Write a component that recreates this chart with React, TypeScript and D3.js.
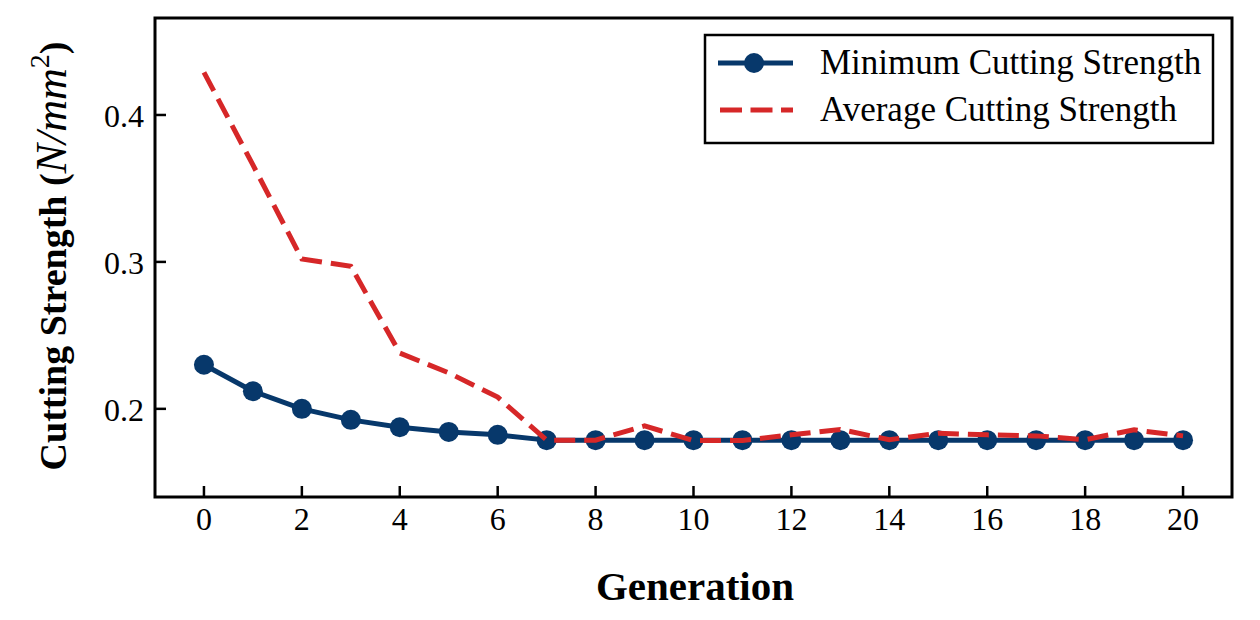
import React from "react";
import * as d3 from "d3";

const generations = d3.range(0, 21);
const minStrength = [
  0.23, 0.212, 0.2, 0.1925, 0.1875, 0.1843, 0.1823, 0.1787, 0.1787, 0.1787,
  0.1787, 0.1787, 0.1787, 0.1787, 0.1787, 0.1787, 0.1787, 0.1787, 0.1787, 0.1787, 0.1787,
];
const avgStrength = [
  0.429, 0.366, 0.302, 0.297, 0.238, 0.2245, 0.208, 0.1787, 0.1787, 0.1884,
  0.1784, 0.1784, 0.1823, 0.186, 0.179, 0.1834, 0.1823, 0.1816, 0.179, 0.1857, 0.1816,
];
const xTicks = [0, 2, 4, 6, 8, 10, 12, 14, 16, 18, 20];
const yTicks = [0.2, 0.3, 0.4];
const seriesNames = ["Minimum Cutting Strength", "Average Cutting Strength"];

const W = 1260;
const H = 620;
const FONT = "'Liberation Serif', 'Times New Roman', serif";
const NAVY = "#07386b";
const RED = "#d62728";

export default function App() {
  const left = 155, right = 1232, top = 18, bottom = 497;
  const x = d3.scaleLinear().domain([-1, 21]).range([left, right]);
  const y = d3.scaleLinear().domain([0.14, 0.466]).range([bottom, top]);

  const line = d3
    .line<number>()
    .x((_, i) => x(generations[i]))
    .y((d) => y(d));

  const legX = 705, legY = 35, legW = 508, legH = 108;

  return (
    <svg
      width={W}
      height={H}
      style={{ position: "absolute", left: 0, top: 0, background: "#fff" }}
      fontFamily={FONT}
    >
      <defs>
        <clipPath id="plot-clip">
          <rect x={left} y={top} width={right - left} height={bottom - top} />
        </clipPath>
      </defs>

      {/* series */}
      <g clipPath="url(#plot-clip)">
        <path d={line(minStrength) || ""} fill="none" stroke={NAVY} strokeWidth={5} strokeLinejoin="round" />
        {minStrength.map((v, i) => (
          <circle key={i} cx={x(generations[i])} cy={y(v)} r={10} fill={NAVY} />
        ))}
        <path
          d={line(avgStrength) || ""}
          fill="none"
          stroke={RED}
          strokeWidth={5}
          strokeDasharray="21 9"
          strokeLinejoin="miter"
        />
      </g>

      {/* ticks */}
      {xTicks.map((t) => (
        <g key={t}>
          <line x1={x(t)} x2={x(t)} y1={bottom} y2={bottom - 11} stroke="#000" strokeWidth={2.5} />
          <text x={x(t)} y={530} textAnchor="middle" fontSize={32} fill="#000">
            {t}
          </text>
        </g>
      ))}
      {yTicks.map((t) => (
        <g key={t}>
          <line x1={left} x2={left + 11} y1={y(t)} y2={y(t)} stroke="#000" strokeWidth={2.5} />
          <text x={144} y={y(t)} dy="0.38em" textAnchor="end" fontSize={32} fill="#000">
            {d3.format(".1f")(t)}
          </text>
        </g>
      ))}

      {/* frame */}
      <rect x={left} y={top} width={right - left} height={bottom - top} fill="none" stroke="#000" strokeWidth={3} />

      {/* axis titles */}
      <text x={695} y={600} textAnchor="middle" fontSize={41} fontWeight="bold" fill="#000">
        Generation
      </text>
      <text
        transform="translate(66,256) rotate(-90)"
        textAnchor="middle"
        fontSize={38}
        fill="#000"
      >
        <tspan fontWeight="bold">Cutting Strength (</tspan>
        <tspan fontStyle="italic" fontSize={44}>N/mm</tspan>
        <tspan fontSize={28} dy={-17}>2</tspan>
        <tspan dy={17} fontWeight="bold">)</tspan>
      </text>

      {/* legend */}
      <rect x={legX} y={legY} width={legW} height={legH} fill="#fff" stroke="#000" strokeWidth={2.5} />
      <line x1={718} x2={793} y1={63} y2={63} stroke={NAVY} strokeWidth={5} />
      <circle cx={754} cy={63} r={10} fill={NAVY} />
      <text x={820} y={74} fontSize={35} fill="#000">
        {seriesNames[0]}
      </text>
      <line x1={720} x2={793} y1={110} y2={110} stroke={RED} strokeWidth={5} strokeDasharray="22 8.5" />
      <text x={820} y={121} fontSize={35} fill="#000">
        {seriesNames[1]}
      </text>
    </svg>
  );
}
